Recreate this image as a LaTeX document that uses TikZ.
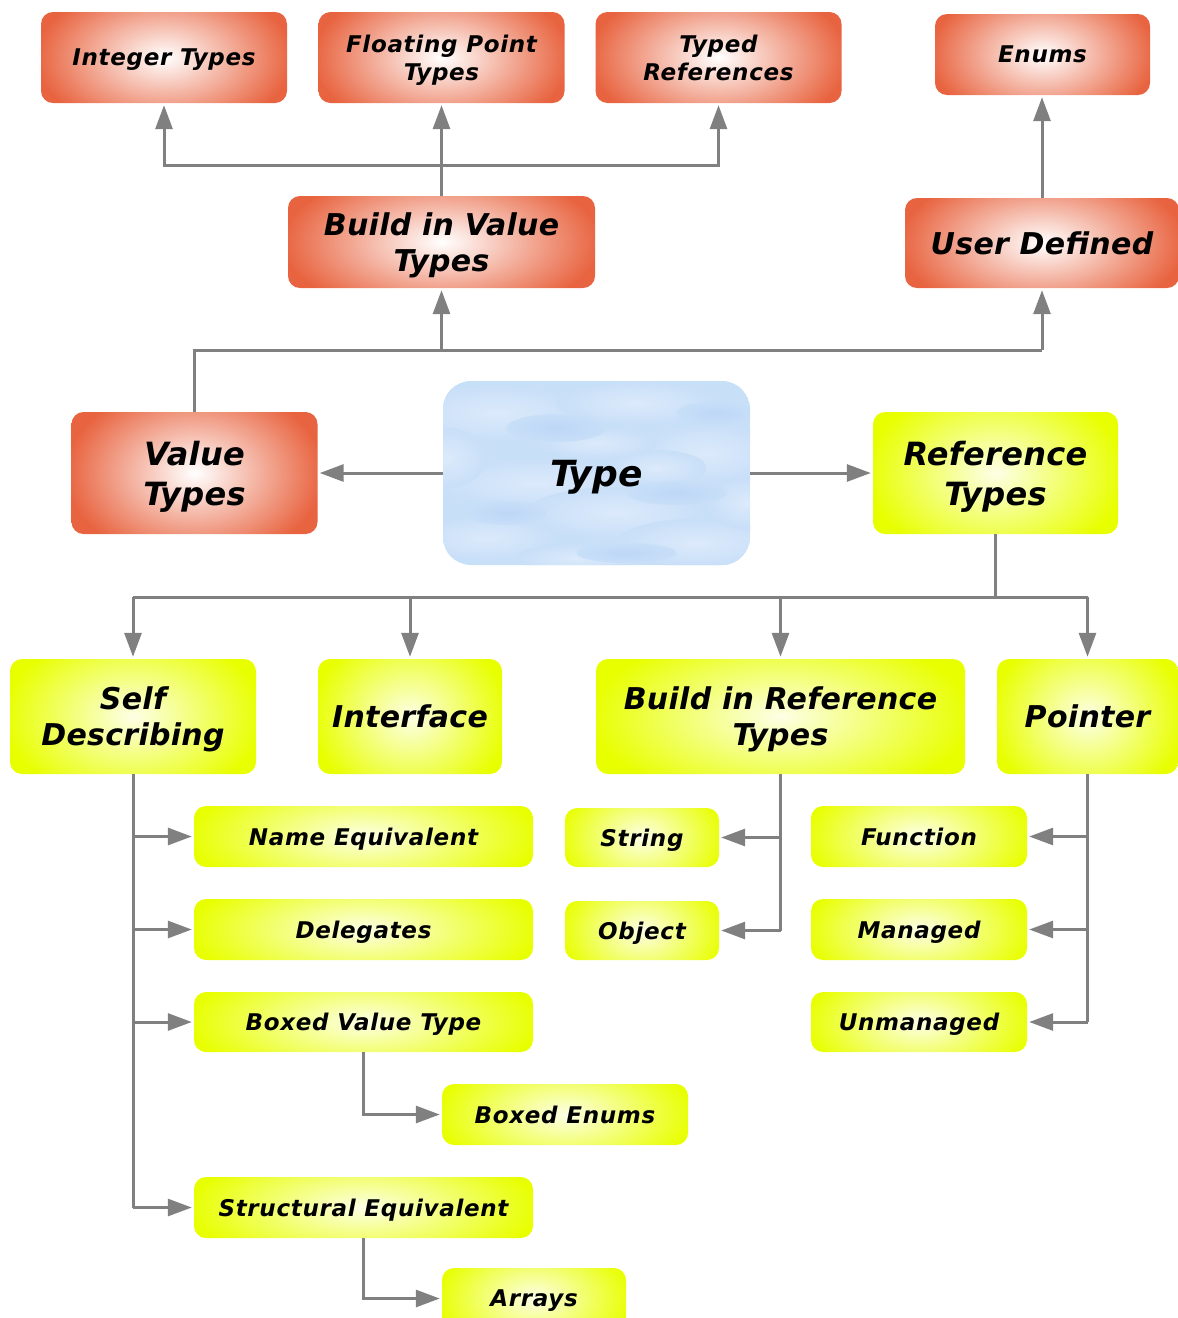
\documentclass[tikz,border=0pt]{standalone}
\usepackage{fontspec}
\setmainfont{DejaVu Sans}
\usetikzlibrary{arrows.meta,calc}
\definecolor{orng}{HTML}{E8633F}
\definecolor{yel}{HTML}{E8FF00}
\definecolor{sky}{HTML}{C8DFF8}
\definecolor{skyl}{HTML}{DCEAFB}
\definecolor{skyd}{HTML}{BDD7F6}
\definecolor{lgray}{HTML}{808080}
\begin{document}
\begin{tikzpicture}[x=1pt,y=-1pt,
  box/.style={rounded corners=12pt, inner sep=0pt, align=center, text depth=0pt},
  obox/.style={box, path picture={\shade[inner color=white, outer color=orng]
      ([xshift=-6pt,yshift=-30pt]path picture bounding box.south west) rectangle
      ([xshift=6pt,yshift=30pt]path picture bounding box.north east);}},
  ybox/.style={box, path picture={\shade[inner color=white!90!yel, outer color=yel]
      ([xshift=-6pt,yshift=-30pt]path picture bounding box.south west) rectangle
      ([xshift=6pt,yshift=30pt]path picture bounding box.north east);}},
  ts/.style={font=\bfseries\itshape\fontsize{23}{28}\selectfont\addfontfeatures{LetterSpace=3}},
  tm/.style={font=\bfseries\itshape\fontsize{30}{36}\selectfont\addfontfeatures{LetterSpace=1}},
  tl/.style={font=\bfseries\itshape\fontsize{32}{40}\selectfont\addfontfeatures{LetterSpace=1}},
  conn/.style={draw=lgray, line width=3pt},
  arr/.style={conn, -{Triangle[length=24pt,width=17pt]}, shorten >=2pt},
]
\useasboundingbox (0,0) rectangle (1178,1318);

% top row
\node[obox,ts,minimum width=246pt,minimum height=91pt] (int) at (164,57.5) {Integer Types};
\node[obox,ts,minimum width=246pt,minimum height=91pt] (fpt) at (441.5,57.5) {Floating Point\\Types};
\node[obox,ts,minimum width=246pt,minimum height=91pt] (tref) at (718.5,57.5) {Typed\\References};
\node[obox,ts,minimum width=215pt,minimum height=81pt] (enums) at (1042.5,54.5) {Enums};
\node[obox,tm,minimum width=307pt,minimum height=92pt] (bvt) at (441.5,242) {Build in Value\\Types};
\node[obox,tm,minimum width=274pt,minimum height=90pt] (ud) at (1042,243) {User Defined};

% middle row
\node[obox,tl,minimum width=246pt,minimum height=122pt] (vt) at (194.5,473) {Value\\Types};
\node[box,rounded corners=28pt,font=\bfseries\itshape\fontsize{36}{42}\selectfont,
  minimum width=307pt,minimum height=184pt,
  path picture={
    \fill[sky] (path picture bounding box.south west) rectangle (path picture bounding box.north east);
    \foreach \px/\py/\rx/\ry in {-100/-60/90/28, 40/-70/80/22, 110/-20/70/30, -60/10/100/25,
        20/40/90/26, -110/65/70/22, 100/70/80/24, 60/-5/50/18, -150/-15/40/30, 0/-30/60/16,
        -20/85/60/14, 150/30/40/26} {
      \shade[inner color=skyl, outer color=sky]
        ($(path picture bounding box.center)+(\px,\py)$) ellipse ({\rx} and {\ry});
    }
    \foreach \px/\py/\rx/\ry in {-40/-45/50/14, 80/20/50/12, -90/40/40/12, 30/80/50/10, 120/-60/40/12} {
      \shade[inner color=skyd, outer color=sky]
        ($(path picture bounding box.center)+(\px,\py)$) ellipse ({\rx} and {\ry});
    }
  }] (type) at (596.5,473) {Type};
\node[ybox,tl,minimum width=245pt,minimum height=122pt] (rt) at (995.5,473) {Reference\\Types};

% reference children
\node[ybox,tm,minimum width=246pt,minimum height=115pt] (sd) at (133,716.5) {Self\\Describing};
\node[ybox,tm,minimum width=184pt,minimum height=115pt] (intf) at (410,716.5) {Interface};
\node[ybox,tm,minimum width=369pt,minimum height=115pt] (brt) at (780.5,716.5) {Build in Reference\\Types};
\node[ybox,tm,minimum width=181pt,minimum height=115pt] (ptr) at (1087.5,716.5) {Pointer};

% small boxes
\node[ybox,ts,minimum width=339pt,minimum height=61pt] (ne) at (363.5,836.5) {Name Equivalent};
\node[ybox,ts,minimum width=339pt,minimum height=61pt] (del) at (363.5,929.5) {Delegates};
\node[ybox,ts,minimum width=339pt,minimum height=60pt] (bxv) at (363.5,1022) {Boxed Value Type};
\node[ybox,ts,minimum width=246pt,minimum height=61pt] (be) at (565,1114.5) {Boxed Enums};
\node[ybox,ts,minimum width=339pt,minimum height=61pt] (se) at (363.5,1207.5) {Structural Equivalent};
\node[ybox,ts,minimum width=184pt,minimum height=61pt] (arrs) at (534,1298.5) {Arrays};
\node[ybox,ts,minimum width=154pt,minimum height=59pt] (str) at (642,837.5) {String};
\node[ybox,ts,minimum width=154pt,minimum height=59pt] (obj) at (642,930.5) {Object};
\node[ybox,ts,minimum width=216pt,minimum height=61pt] (fun) at (919,836.5) {Function};
\node[ybox,ts,minimum width=216pt,minimum height=61pt] (man) at (919,929.5) {Managed};
\node[ybox,ts,minimum width=216pt,minimum height=60pt] (unm) at (919,1022) {Unmanaged};

% junctions
\coordinate (j1) at (441.5,165);
\coordinate (j2) at (194.5,350);
\coordinate (j3) at (995.5,597);

% connectors
\draw[arr] (bvt.north) -- (fpt.south);
\draw[arr] (j1) -| (int.south);
\draw[arr] (j1) -| (tref.south);
\draw[arr] (ud.north) -- (ud.north |- enums.south);

\draw[conn] (vt.north) -- (j2) -- (ud.south |- j2);
\draw[arr] (bvt.south |- j2) -- (bvt.south);
\draw[arr] (ud.south |- j2) -- (ud.south);

\draw[arr] (type.west) -- (vt.east);
\draw[arr] (type.east) -- (rt.west);

\draw[conn] (rt.south) -- (j3);
\draw[conn] (sd.north |- j3) -- (ptr.north |- j3);
\draw[arr] (sd.north |- j3) -- (sd.north);
\draw[arr] (intf.north |- j3) -- (intf.north);
\draw[arr] (brt.north |- j3) -- (brt.north);
\draw[arr] (ptr.north |- j3) -- (ptr.north);

\draw[conn] (sd.south) -- (sd.south |- se.west);
\draw[arr] (sd.south |- ne.west) -- (ne.west);
\draw[arr] (sd.south |- del.west) -- (del.west);
\draw[arr] (sd.south |- bxv.west) -- (bxv.west);
\draw[arr] (sd.south |- se.west) -- (se.west);
\draw[arr] (bxv.south) |- (be.west);
\draw[arr] (se.south) |- (arrs.west);

\draw[conn] (brt.south) -- (brt.south |- obj.east);
\draw[arr] (brt.south |- str.east) -- (str.east);
\draw[arr] (brt.south |- obj.east) -- (obj.east);

\draw[conn] (ptr.south) -- (ptr.south |- unm.east);
\draw[arr] (ptr.south |- fun.east) -- (fun.east);
\draw[arr] (ptr.south |- man.east) -- (man.east);
\draw[arr] (ptr.south |- unm.east) -- (unm.east);
\end{tikzpicture}
\end{document}
